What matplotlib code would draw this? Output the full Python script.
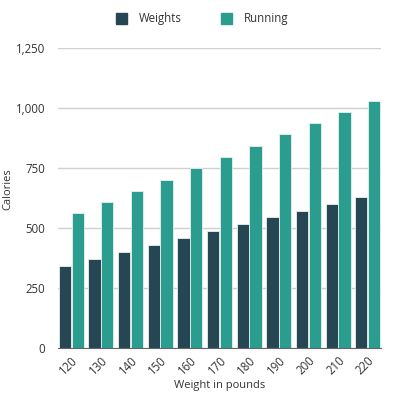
import matplotlib.pyplot as plt
import numpy as np
from matplotlib.ticker import FuncFormatter
from matplotlib.patches import Patch

# data
weights_lb = ["120", "130", "140", "150", "160", "170", "180", "190", "200", "210", "220"]
weights_cal = [343, 371, 400, 429, 457, 486, 515, 544, 572, 600, 629]
running_cal = [561, 608, 654, 701, 749, 795, 842, 889, 935, 982, 1029]
yticks = [0, 250, 500, 750, 1000, 1250]

c_weights = "#264653"
c_running = "#2a9d8f"
txt = "#333333"

plt.rcParams["font.family"] = ["Open Sans", "DejaVu Sans"]

fig = plt.figure(figsize=(4, 4), dpi=100)
ax = fig.add_axes([0.145, 0.13, 0.8075, 0.751])

x = np.arange(len(weights_lb))
w = 0.415
ax.bar(x - 0.215, weights_cal, w, color=c_weights, edgecolor="#e8f0f0", linewidth=0.6, zorder=3)
ax.bar(x + 0.215, running_cal, w, color=c_running, edgecolor="#e8f0f0", linewidth=0.6, zorder=3)

ax.set_xlim(-0.45, 10.45)
ax.set_ylim(0, 1250)
ax.set_yticks(yticks)
ax.yaxis.set_major_formatter(FuncFormatter(lambda v, p: f"{int(v):,}"))
ax.grid(axis="y", color="#d0d0d0", linewidth=1, zorder=0)

ax.set_xticks(x)
ax.set_xticklabels(weights_lb, rotation=45, ha="right", rotation_mode="anchor")

for s in ["top", "right", "left"]:
    ax.spines[s].set_visible(False)
ax.spines["bottom"].set_color("#666666")
ax.spines["bottom"].set_zorder(4)
ax.tick_params(axis="both", length=0, labelsize=8.3, colors=txt, pad=4)
ax.tick_params(axis="y", pad=9)

ax.set_xlabel("Weight in pounds", fontsize=8, color=txt, labelpad=2)
ax.set_ylabel("Calories", fontsize=8, color=txt)
ax.yaxis.set_label_coords(-0.138, 0.53)

handles = [Patch(color=c_weights), Patch(color=c_running)]
fig.legend(handles, ["Weights", "Running"], loc="upper center", bbox_to_anchor=(0.505, 0.995),
           ncol=2, frameon=False, fontsize=8.3, labelcolor=txt,
           handlelength=1.0, handleheight=1.0, handletextpad=1.0, columnspacing=3.4)

fig.savefig("out.png", dpi=100)
